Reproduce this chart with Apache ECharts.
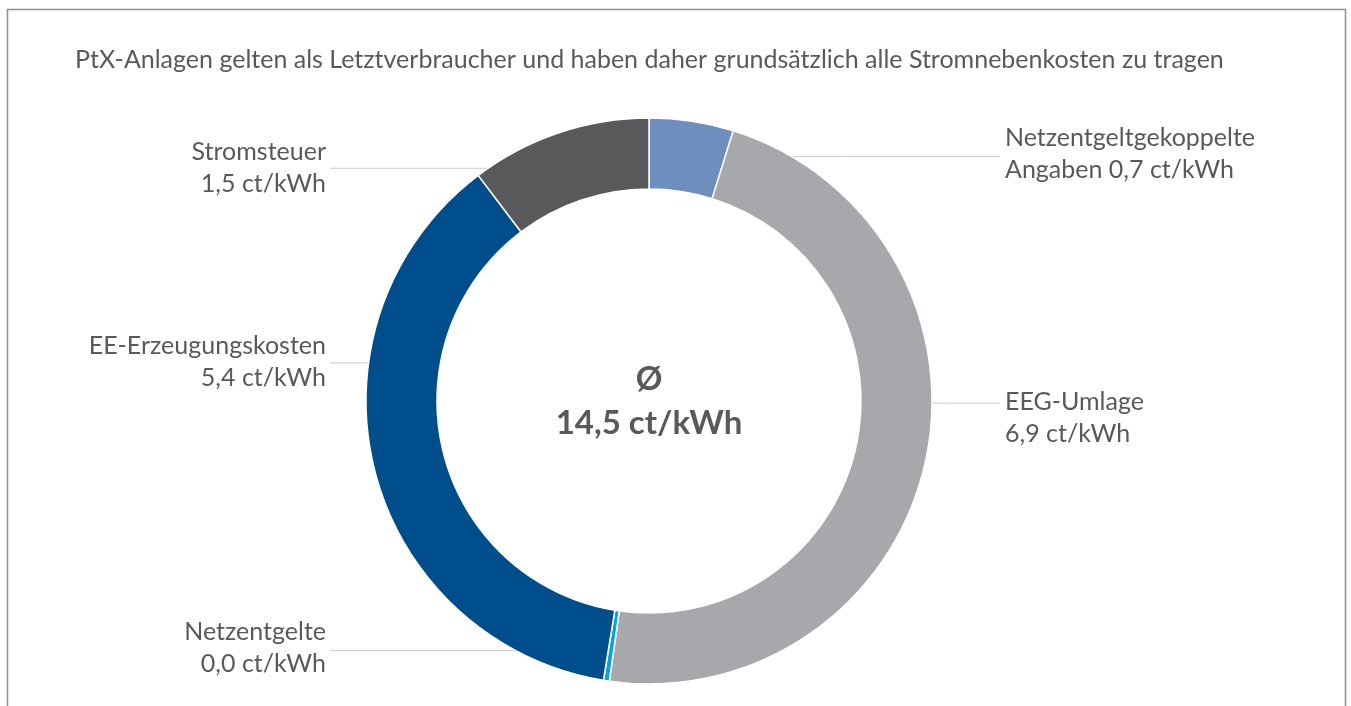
<!DOCTYPE html>
<html><head><meta charset="utf-8">
<script src="https://cdn.jsdelivr.net/npm/echarts@6/dist/echarts.min.js"></script>
<style>html,body{margin:0;padding:0;background:#fff}#c{width:1351px;height:706px}</style>
</head><body><div id="c"></div>
<script>
// ---- data ----
const titleText = 'PtX-Anlagen gelten als Letztverbraucher und haben daher grundsätzlich alle Stromnebenkosten zu tragen';
const categories = ['Netzentgeltgekoppelte\nAngaben', 'EEG-Umlage', 'Netzentgelte', 'EE-Erzeugungskosten', 'Stromsteuer'];
const values = [0.7, 6.9, 0.049, 5.4, 1.5];
const unit = 'ct/kWh';
const centerSymbol = '\u00d8';

// ---- styles / layout ----
const colors = ['#6D8EBF', '#A7A8AB', '#0BA2DC', '#004D8B', '#58595B'];
const FONT = 'Lato, "Noto Sans", sans-serif';
const CX = 649, CY = 401, R0 = 212, R1 = 283;
const anchorAngles = [8.4, 90.5, 189.3, 278.8, 336.4];
const anchorR = [247, 244, 253, 249, 254];
const textDy = [-2.5, 15, -2.5, -0.5, -0.5];
const LEFT_X = 326, RIGHT_X = 1005;

const fmt = v => v.toFixed(1).replace('.', ',');
const total = values.reduce((a, b) => a + b, 0);

const chart = echarts.init(document.getElementById('c'), null, {renderer: 'canvas'});
chart.setOption({
  animation: false,
  backgroundColor: '#fff',
  title: {
    text: titleText, left: 70, top: 42,
    textStyle: {fontFamily: FONT, fontSize: 25, fontWeight: 'normal', color: '#595959'}
  },
  graphic: [
    {type: 'rect', shape: {x: 7.5, y: 9.5, width: 1338, height: 760}, style: {fill: 'none', stroke: '#8f8f8f', lineWidth: 1.5}, silent: true, z: -10},
    {type: 'text', x: CX, y: CY, style: {
      text: centerSymbol + '\n' + fmt(total) + ' ' + unit,
      align: 'center', verticalAlign: 'middle', lineHeight: 44,
      font: 'bold 33px ' + FONT, fill: '#595959'
    }, z: 10}
  ],
  series: [{
    type: 'pie',
    center: [CX, CY],
    radius: [R0, R1],
    startAngle: 90,
    clockwise: true,
    avoidLabelOverlap: false,
    itemStyle: {borderColor: '#fff', borderWidth: 1.5},
    emphasis: {disabled: true},
    label: {
      show: true, position: 'outside',
      fontFamily: FONT, fontSize: 25, color: '#595959', lineHeight: 32,
      formatter: p => p.name + (p.name.indexOf('\n') >= 0 ? ' ' : '\n') + fmt(p.value) + ' ' + unit
    },
    labelLine: {show: true, length: 10, length2: 10, lineStyle: {color: '#c9c9c9', width: 1}},
    labelLayout: function (p) {
      const i = p.dataIndex;
      const a = anchorAngles[i] * Math.PI / 180;
      const rm = anchorR[i];
      const sx = CX + rm * Math.sin(a), sy = CY - rm * Math.cos(a);
      const left = sx < CX;
      const ex = left ? LEFT_X + 4 : RIGHT_X - 5;
      return {
        x: left ? LEFT_X : RIGHT_X, y: sy + textDy[i],
        align: left ? 'right' : 'left', verticalAlign: 'middle',
        labelLinePoints: [[sx, sy], [(sx + ex) / 2, sy], [ex, sy]]
      };
    },
    data: categories.map((c, i) => ({name: c, value: values[i], itemStyle: {color: colors[i]}}))
  }]
});
</script></body></html>
